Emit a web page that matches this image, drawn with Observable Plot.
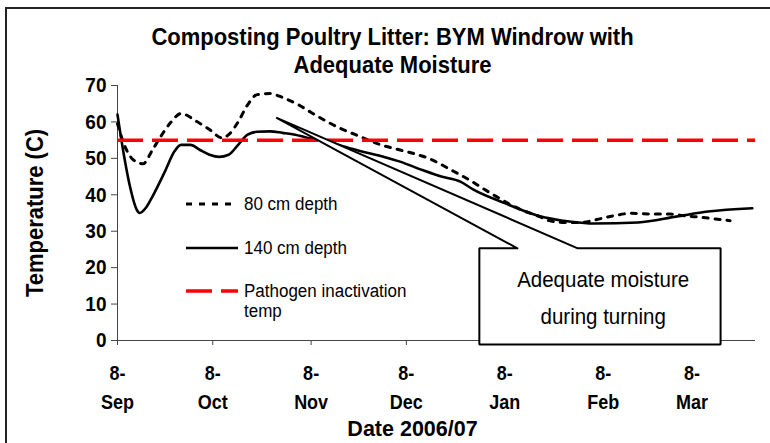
<!DOCTYPE html>
<html><head><meta charset="utf-8">
<script src="https://cdn.jsdelivr.net/npm/d3@7"></script>
<script src="https://cdn.jsdelivr.net/npm/@observablehq/plot@0.6"></script>
<style>
html,body{margin:0;background:#fff;overflow:hidden;}
#wrap{position:relative;width:770px;height:443px;overflow:hidden;background:#fff;font-family:"Liberation Sans",Arial,sans-serif;}
#border{position:absolute;left:5px;top:7px;width:765px;height:436px;border-top:2px solid #222;border-left:2px solid #222;box-sizing:border-box;}
#chart{position:absolute;left:0;top:0;}
#legend{position:absolute;left:0;top:0;}
#cover{position:absolute;left:762px;top:10px;width:8px;height:433px;background:#fff;z-index:5;}
svg{display:block;}
</style>
</head><body>
<div id="wrap"><div id="border"></div><div id="chart"></div><svg id="legend" width="770" height="443"></svg><div id="cover"></div></div>
<script>
// ---- data ----
const title = ["Composting Poultry Litter: BYM Windrow with", "Adequate Moisture"];
const yLabel = "Temperature (C)";
const xLabel = "Date 2006/07";
const yTicks = [0, 10, 20, 30, 40, 50, 60, 70];
const xTickDates = ["2006-09-08","2006-10-08","2006-11-08","2006-12-08","2007-01-08","2007-02-08","2007-03-08"];
const xTickDay = ["8-","8-","8-","8-","8-","8-","8-"];
const xTickMonth = ["Sep","Oct","Nov","Dec","Jan","Feb","Mar"];
const xDomain = ["2006-09-08", "2007-03-28"];

const dates80 = ["2006-09-08","2006-09-10","2006-09-13","2006-09-16","2006-09-19","2006-09-22","2006-09-25","2006-09-28",
  "2006-10-03","2006-10-07","2006-10-11","2006-10-13","2006-10-16","2006-10-19","2006-10-22","2006-10-26","2006-10-30",
  "2006-11-04","2006-11-08","2006-11-13","2006-11-17","2006-11-22","2006-11-30","2006-12-05","2006-12-10","2006-12-15",
  "2006-12-23","2006-12-28","2007-01-01","2007-01-05","2007-01-10","2007-01-14","2007-01-19","2007-01-22","2007-01-27",
  "2007-02-01","2007-02-06","2007-02-11","2007-02-17","2007-02-24","2007-03-01","2007-03-06","2007-03-11","2007-03-16","2007-03-20"];
const temp80 = [59.5,54,49.6,48.5,52.3,56.5,60.1,62.3,
  60.1,57.9,55.6,56.5,60,64.7,67.5,67.8,66.7,
  64.7,62.6,60.1,58.3,56.5,53.7,52.5,51.4,50,
  46.4,44,41.8,39.7,37.2,35.6,34,32.9,32.4,
  32.4,33.2,34.2,34.9,34.7,34.7,34.2,33.8,33.3,32.9];

const dates140 = ["2006-09-08","2006-09-10","2006-09-12","2006-09-14","2006-09-15","2006-09-17","2006-09-19","2006-09-23",
  "2006-09-26","2006-09-28","2006-10-01","2006-10-04","2006-10-07","2006-10-10","2006-10-13","2006-10-16","2006-10-19",
  "2006-10-22","2006-10-26","2006-10-30","2006-11-03","2006-11-07","2006-11-12","2006-11-18","2006-11-24","2006-12-01",
  "2006-12-06","2006-12-13","2006-12-19","2006-12-25","2006-12-29","2007-01-08","2007-01-18","2007-01-29","2007-02-05",
  "2007-02-19","2007-03-03","2007-03-13","2007-03-27"];
const temp140 = [62,51,42,36,35,36.5,39.5,46.5,
  52,53.7,53.7,52.3,51,50.4,51,53.7,56.5,
  57.3,57.4,57,56.5,55.6,55,53.3,51.9,50.4,
  49.1,46.8,45,43.6,41.5,37.7,34.4,32.6,32.1,
  32.4,34,35.4,36.3];

const pathogenTemp = 55;

// callout annotation (wedge + box) in data space
const calloutDates = ["2007-01-12","2006-10-28","2007-01-31","2007-03-17","2007-03-17","2006-12-31","2006-12-31","2007-01-12"];
const calloutTemps = [25.3, 61.2, 25.3, 25.3, -1.1, -1.1, 25.3, 25.3];
const calloutText = ["Adequate moisture", "during turning"];
const calloutTextDate = "2007-02-08";
const calloutTextTemps = [16.5, 6.4];

const legendLabels = ["80 cm depth", "140 cm depth", "Pathogen inactivation\ntemp"];

// ---- build ----
const parse = d3.utcParse("%Y-%m-%d");
const d80 = dates80.map((d, i) => ({date: parse(d), t: temp80[i]}));
const d140 = dates140.map((d, i) => ({date: parse(d), t: temp140[i]}));
const callout = calloutDates.map((d, i) => ({date: parse(d), t: calloutTemps[i]}));
const xTicks = xTickDates.map(parse);
const FONT = '"Liberation Sans", Arial, sans-serif';

const chart = Plot.plot({
  width: 770, height: 443,
  marginLeft: 117, marginRight: 15, marginTop: 85, marginBottom: 103,
  style: {fontFamily: FONT, background: "transparent", overflow: "visible", color: "black"},
  x: {type: "utc", domain: xDomain.map(parse)},
  y: {domain: [0, 70]},
  marks: [
    Plot.axisY({ticks: yTicks, tickSize: 6, tickPadding: 5, fontSize: 19, fontWeight: "bold", label: null, stroke: "#444", fill: "black"}),
    Plot.axisX({ticks: xTicks, tickSize: 5, tickFormat: () => "", label: null, stroke: "#444"}),
    Plot.text(xTicks, {x: d => d, y: () => 0, text: (d, i) => xTickDay[i], dy: 33, fontSize: 18, fontWeight: "bold", fill: "black", lineAnchor: "middle"}),
    Plot.text(xTicks, {x: d => d, y: () => 0, text: (d, i) => xTickMonth[i], dy: 62, fontSize: 18, fontWeight: "bold", fill: "black", lineAnchor: "middle"}),
    Plot.ruleY([0], {stroke: "#444", strokeWidth: 1}),
    Plot.ruleX([parse(xDomain[0])], {stroke: "#444", strokeWidth: 1}),
    Plot.line(d80, {x: "date", y: "t", curve: "monotone-x", stroke: "black", strokeWidth: 3, strokeDasharray: "5,7"}),
    Plot.line(d140, {x: "date", y: "t", curve: "monotone-x", stroke: "black", strokeWidth: 2.6}),
    Plot.ruleY([pathogenTemp], {stroke: "#ff0000", strokeWidth: 3.5, strokeDasharray: "26,9"}),
    Plot.line(callout, {x: "date", y: "t", curve: "linear", stroke: "black", strokeWidth: 2, fill: "white", strokeLinejoin: "miter"}),
    Plot.text(calloutText, {x: () => parse(calloutTextDate), y: (d, i) => calloutTextTemps[i], text: d => d, fontSize: 20.5, fill: "black"}),
    Plot.text([title[0]], {frameAnchor: "top", lineAnchor: "middle", textAnchor: "middle", dx: -44, dy: -48, fontSize: 22, fontWeight: "bold", fill: "black"}),
    Plot.text([title[1]], {frameAnchor: "top", lineAnchor: "middle", textAnchor: "middle", dx: -44, dy: -20, fontSize: 22, fontWeight: "bold", fill: "black"}),
    Plot.text([yLabel], {frameAnchor: "left", lineAnchor: "middle", textAnchor: "middle", dx: -82, rotate: -90, fontSize: 22, fontWeight: "bold", fill: "black"}),
    Plot.text([xLabel], {frameAnchor: "bottom", lineAnchor: "middle", textAnchor: "middle", dx: -24, dy: 89, fontSize: 21.5, fontWeight: "bold", fill: "black"})
  ]
});
document.getElementById("chart").appendChild(chart);

// legend overlay
const leg = d3.select("#legend");
const items = [
  {y: 204, stroke: "black", w: 3, dash: "6,7", label: legendLabels[0]},
  {y: 248, stroke: "black", w: 2.6, dash: null, label: legendLabels[1]},
  {y: 291, stroke: "#ff0000", w: 3.5, dash: "26,9", label: legendLabels[2]}
];
items.forEach(it => {
  leg.append("line").attr("x1", 186).attr("x2", 238).attr("y1", it.y).attr("y2", it.y)
    .attr("stroke", it.stroke).attr("stroke-width", it.w).attr("stroke-dasharray", it.dash);
  it.label.split("\n").forEach((l, j) => {
    leg.append("text").attr("x", 244).attr("y", it.y + j * 20).attr("dy", "0.35em")
      .attr("font-family", FONT).attr("font-size", 17).text(l);
  });
});

// the reference's lettering is slightly stretched vertically
function stretch(root) {
  root.querySelectorAll("text").forEach(t => {
    if (t.textContent === xLabel) return;
    const bold = getComputedStyle(t).fontWeight >= 600;
    const sy = bold ? 1.1 : 1.05;
    const b = t.getBBox();
    const cx = b.x + b.width / 2, cy = b.y + b.height / 2;
    const ex = t.getAttribute("transform") || "";
    t.setAttribute("transform", `${ex} translate(${cx},${cy}) scale(1,${sy}) translate(${-cx},${-cy})`);
  });
}
stretch(chart);
stretch(document.getElementById("legend"));
</script>
</body></html>
